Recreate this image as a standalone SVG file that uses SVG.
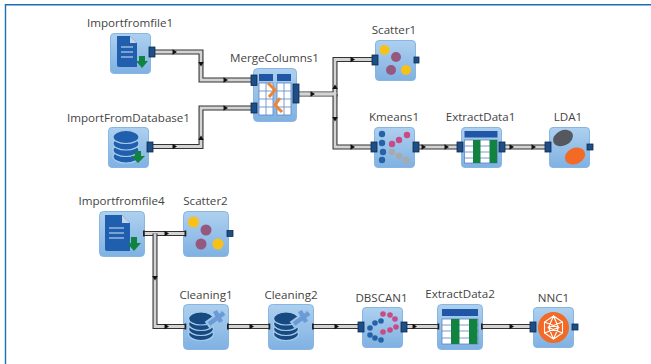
<svg xmlns="http://www.w3.org/2000/svg" width="651" height="364" viewBox="0 0 651 364">
<style>
text{font-family:"Open Sans","Noto Sans","Liberation Sans",sans-serif;font-size:11.6px;fill:#444;text-anchor:middle}
.o{fill:none;stroke:#333;stroke-width:5}
.i{fill:none;stroke:#d4d4d4;stroke-width:2.8}
.a{fill:#111}
.p{fill:#1d4e86;stroke:#0e2c50;stroke-width:.8}
.c{fill:#222}
.b{fill:url(#bg);stroke:#86b6e4;stroke-width:1}
.w{fill:#fff;stroke:#5b84c4;stroke-width:.8}
.dk{fill:#1f5fae}
.arr{fill:#11823f}
.y{fill:#f7c11a}.m{fill:#95597f}
.kb{fill:#2563a8}.kp{fill:#c94a86}.kg{fill:#a9a9a9}
.db{fill:#174a80;stroke:#a9cdee;stroke-width:1.2}
.dc{fill:#1f5fae;stroke:#a9cdee;stroke-width:1.2}
.g{fill:#11823f}
.n{stroke:#fff;stroke-width:1.1;fill:none}
</style>
<defs>
<linearGradient id="bg" x1="0" y1="0" x2="0" y2="1"><stop offset="0" stop-color="#aed0ef"/><stop offset="1" stop-color="#7fb1e2"/></linearGradient>
<rect id="box" class="b" x=".5" y=".5" width="40" height="40" rx="3.500"/>
<g id="scatter">
<use href="#box"/>
<circle class="y" cx="9.500" cy="10" r="5"/><circle class="m" cx="21" cy="17" r="5"/>
<circle class="m" cx="16" cy="30" r="5"/><circle class="y" cx="31" cy="30" r="5"/>
</g>
<g id="table">
<use href="#box"/>
<rect x="3.500" y="4" width="33" height="6.500" fill="#1f56a5"/>
<rect class="w" x="3.500" y="13" width="33" height="23"/>
<path d="M3.500 19H36.500M3.500 25H36.500M3.500 31H36.500" stroke="#5b84c4" stroke-width=".8"/>
<rect class="g" x="12" y="13" width="7.500" height="23"/><rect class="g" x="28.500" y="13" width="7.500" height="23"/>
</g>
<g id="clean">
<rect class="b" x=".5" y=".5" width="45" height="45" rx="4"/>
<ellipse class="db" cx="18" cy="30" rx="12.500" ry="6.500"/>
<ellipse class="db" cx="18" cy="25" rx="12.500" ry="6.500"/>
<ellipse class="db" cx="18" cy="20" rx="12.500" ry="6.500"/>
<ellipse class="db" cx="18" cy="14.500" rx="12.500" ry="6.500"/>
<path d="M24 21L41 9" stroke="#9cc3ea" stroke-width="8" fill="none"/>
<path d="M26 20L41 9M32 7L38 18" stroke="#6a9bd6" stroke-width="4.500" fill="none"/>
</g>
<g id="tick"><path class="a" d="M-2.500 -2.800L2 0L-2.500 2.800Z"/></g>
<g id="tickU"><path class="a" d="M-2.800 2L0 -2.500L2.800 2Z"/></g>
<g id="tickD"><path class="a" d="M-2.800 -2L0 2.500L2.800 -2Z"/></g>
</defs>
<rect width="651" height="364" fill="#fff"/>
<path d="M5 4.700H651M5.500 4V364" stroke="#1a6fb5" stroke-width="1.400" fill="none"/>

<g id="Importfromfile1" transform="translate(110 33)"><use href="#box"/>
<path class="dk" d="M7 3H20L27 10V34H9Q7 34 7 32Z"/><path d="M20 3L27 10H20Z" fill="#c5d3ea"/>
<path d="M11 14H23M11 19H23M11 24H23" stroke="#d5e4f5" stroke-width="1.100"/>
<path class="arr" d="M29 23H35V28H38L32 35L26 28H29Z"/>
<text x="20" y="-6">Importfromfile1</text></g>
<g id="ImportFromDatabase1" transform="translate(108 127)"><use href="#box"/>
<ellipse class="dc" cx="18" cy="29.500" rx="13" ry="6.500"/><ellipse class="dc" cx="18" cy="23" rx="13" ry="6.500"/><ellipse class="dc" cx="18" cy="16.500" rx="13" ry="6.500"/><ellipse class="dc" cx="18" cy="10" rx="13" ry="6.500"/>
<path class="arr" d="M27 24H33V29H37L30 36L23 29H27Z"/>
<text x="20.500" y="-5.500">ImportFromDatabase1</text></g>
<g id="MergeColumns1" transform="translate(253 68)"><rect class="b" x=".5" y=".5" width="43" height="53" rx="4"/>
<rect x="6" y="6" width="14" height="7" fill="#1f56a5"/><rect x="24" y="6" width="14" height="7" fill="#1f56a5"/>
<rect class="w" x="6" y="15" width="14" height="32"/><rect class="w" x="24" y="15" width="14" height="32"/>
<path d="M6 23H20M6 31H20M6 39H20M24 23H38M24 31H38M24 39H38M13 15V47M31 15V47" stroke="#5b84c4" stroke-width=".8"/>
<path d="M15 15L22 22L16 29M27 30L22 37L29 44" fill="none" stroke="#ee8532" stroke-width="3"/>
<text x="21.500" y="-6">MergeColumns1</text></g>
<g id="Scatter1" transform="translate(375 40)"><use href="#scatter"/><text x="19" y="-6">Scatter1</text></g>
<g id="Kmeans1" transform="translate(374 127)"><use href="#box"/>
<circle class="kb" cx="8" cy="7" r="3.200"/><circle class="kb" cx="8" cy="16" r="3.200"/><circle class="kb" cx="9" cy="25" r="3.200"/><circle class="kb" cx="8" cy="33" r="3.200"/>
<circle class="kp" cx="18" cy="17" r="3.200"/><circle class="kp" cx="25" cy="13" r="3.200"/><circle class="kp" cx="33" cy="8" r="3.200"/>
<circle class="kg" cx="18" cy="25" r="3.200"/><circle class="kg" cx="25" cy="29" r="3.200"/><circle class="kg" cx="32" cy="33" r="3.200"/>
<text x="20" y="-6">Kmeans1</text></g>
<g id="ExtractData1" transform="translate(461 127)"><use href="#table"/><text x="19.500" y="-6">ExtractData1</text></g>
<g id="LDA1" transform="translate(549 127)"><use href="#box"/>
<ellipse cx="14" cy="11" rx="10.500" ry="7.500" transform="rotate(-25 14 11)" fill="#55585e"/>
<ellipse cx="26" cy="29" rx="10.500" ry="8" transform="rotate(-25 26 29)" fill="#f26a25"/>
<text x="19" y="-6">LDA1</text></g>
<g id="Importfromfile4" transform="translate(99 211)"><rect class="b" x=".5" y=".5" width="45" height="45" rx="4"/>
<path class="dk" d="M6 4H23L31 12V40H8Q6 40 6 38Z"/><path d="M23 4L31 12H23Z" fill="#c5d3ea"/>
<path d="M10 17H25M10 22H25M10 27H25" stroke="#d5e4f5" stroke-width="1.100"/>
<path class="arr" d="M32 26H38V32H42L35 40L28 32H32Z"/>
<text x="22.500" y="-6">Importfromfile4</text></g>
<g id="Scatter2" transform="translate(183 211)"><rect class="b" x=".5" y=".5" width="45" height="45" rx="4"/>
<circle class="y" cx="10.500" cy="11" r="5.500"/><circle class="m" cx="23" cy="19" r="5.500"/><circle class="m" cx="18" cy="33" r="5.500"/><circle class="y" cx="35" cy="33" r="5.500"/>
<text x="22.500" y="-6">Scatter2</text></g>
<g id="Cleaning1" transform="translate(183 304)"><use href="#clean"/><text x="23" y="-5">Cleaning1</text></g>
<g id="Cleaning2" transform="translate(268 304)"><use href="#clean"/><text x="23" y="-5">Cleaning2</text></g>
<g id="DBSCAN1" transform="translate(362 307)"><use href="#box"/>
<circle class="kp" cx="21" cy="7" r="2.800"/><circle class="kp" cx="28" cy="8" r="2.800"/><circle class="kp" cx="33" cy="12" r="2.800"/><circle class="kp" cx="34" cy="20" r="2.800"/><circle class="kp" cx="28" cy="23" r="2.800"/><circle class="kp" cx="21" cy="25" r="2.800"/>
<circle class="kb" cx="19" cy="14" r="2.800"/><circle class="kb" cx="13" cy="16" r="2.800"/><circle class="kb" cx="8" cy="21" r="2.800"/><circle class="kb" cx="8" cy="28" r="2.800"/><circle class="kb" cx="13" cy="31" r="2.800"/><circle class="kb" cx="19" cy="33" r="2.800"/>
<text x="19.500" y="-5.500">DBSCAN1</text></g>
<g id="ExtractData2" transform="translate(437 304)"><rect class="b" x=".5" y=".5" width="45" height="45" rx="4"/>
<rect x="5" y="5" width="36" height="7" fill="#1f56a5"/><rect class="w" x="5" y="15" width="36" height="25"/>
<path d="M5 21H41M5 27H41M5 34H41" stroke="#5b84c4" stroke-width=".8"/>
<rect class="g" x="14" y="15" width="8.500" height="25"/><rect class="g" x="32" y="15" width="8.500" height="25"/>
<text x="23" y="-6">ExtractData2</text></g>
<g id="NNC1" transform="translate(533 307)"><use href="#box"/>
<circle cx="20.500" cy="20.500" r="15.500" fill="#f26a25"/>
<path class="n" d="M20.500 9L11.500 15V26L20.500 32L29.500 26V15ZM20.500 9L15.500 20.500L20.500 32L25.500 20.500ZM11.500 15L25.500 20.500L11.500 26M29.500 15L15.500 20.500L29.500 26"/>
<text x="20.500" y="-5.500">NNC1</text></g>

<g id="connectors">
<path class="o" d="M153 52H201V80H253"/><path class="i" d="M153 52H201V80H253"/>
<path class="o" d="M151 146.500H201V108H253"/><path class="i" d="M151 146.500H201V108H253"/>
<path class="o" d="M297 94H335V59.500H374"/><path class="i" d="M297 94H335V59.500H374"/>
<path class="o" d="M335 94V147H373"/><path class="i" d="M297 94H335V147H373"/>
<path class="o" d="M417 147H459"/><path class="i" d="M417 147H459"/>
<path class="o" d="M503 147H547"/><path class="i" d="M503 147H547"/>
<path class="o" d="M143 233.500H186"/><path class="i" d="M143 233.500H186"/>
<path class="o" d="M155 233.500V326.500H186"/><path class="i" d="M155 233.500V326.500H186"/>
<path class="o" d="M227 326.500H270"/><path class="i" d="M227 326.500H270"/>
<path class="o" d="M312 326.500H360"/><path class="i" d="M312 326.500H360"/>
<path class="o" d="M405 326.500H439"/><path class="i" d="M405 326.500H439"/>
<path class="o" d="M481 326.500H532"/><path class="i" d="M481 326.500H532"/>
<rect class="c" x="143" y="230.500" width="1.800" height="6"/><rect class="c" x="184.500" y="230.500" width="1.800" height="6"/><rect class="c" x="184.500" y="323.500" width="1.800" height="6"/>
<rect class="c" x="227" y="323.500" width="1.800" height="6"/><rect class="c" x="268.500" y="323.500" width="1.800" height="6"/><rect class="c" x="312" y="323.500" width="1.800" height="6"/>
<rect class="c" x="437.500" y="323.500" width="1.800" height="6"/><rect class="c" x="481" y="323.500" width="1.800" height="6"/>
<use href="#tick" x="175" y="52"/><use href="#tick" x="226" y="80"/><use href="#tickD" x="201" y="64"/>
<use href="#tick" x="175" y="146.500"/><use href="#tick" x="226" y="108"/><use href="#tickU" x="201" y="138"/>
<use href="#tick" x="313" y="94"/><use href="#tick" x="353" y="59.500"/><use href="#tick" x="353" y="147"/><use href="#tickU" x="335" y="87"/><use href="#tickD" x="335" y="119"/>
<use href="#tick" x="424" y="147"/><use href="#tick" x="447" y="147"/><use href="#tick" x="512" y="147"/><use href="#tick" x="534" y="147"/>
<use href="#tick" x="167" y="233.500"/><use href="#tick" x="167" y="326.500"/><use href="#tickD" x="155" y="278"/>
<use href="#tick" x="252" y="326.500"/><use href="#tick" x="337" y="326.500"/><use href="#tick" x="415" y="326.500"/><use href="#tick" x="512" y="326.500"/>
<g id="ports">
<rect class="p" x="149" y="47" width="6" height="10"/><rect class="p" x="251" y="75" width="6" height="10.500"/><rect class="p" x="251" y="103" width="6" height="10"/>
<rect class="p" x="147" y="142" width="6" height="10"/>
<rect class="p" x="293" y="84" width="6" height="19"/>
<rect class="p" x="372" y="55" width="6" height="10"/><rect class="p" x="414" y="57" width="5" height="6"/>
<rect class="p" x="371" y="142" width="6" height="10"/><rect class="p" x="413" y="142" width="6" height="10"/>
<rect class="p" x="457" y="142" width="6" height="10"/><rect class="p" x="499" y="142" width="6" height="10"/>
<rect class="p" x="545" y="142" width="6" height="10"/><rect class="p" x="587" y="144" width="6" height="6"/>
<rect class="p" x="227" y="230.500" width="6" height="6"/>
<rect class="p" x="358" y="322" width="6" height="10"/><rect class="p" x="401" y="322" width="6" height="10"/>
<rect class="p" x="530" y="322" width="6" height="10"/><rect class="p" x="572" y="324" width="6" height="6"/>
</g>
</g>
</svg>
